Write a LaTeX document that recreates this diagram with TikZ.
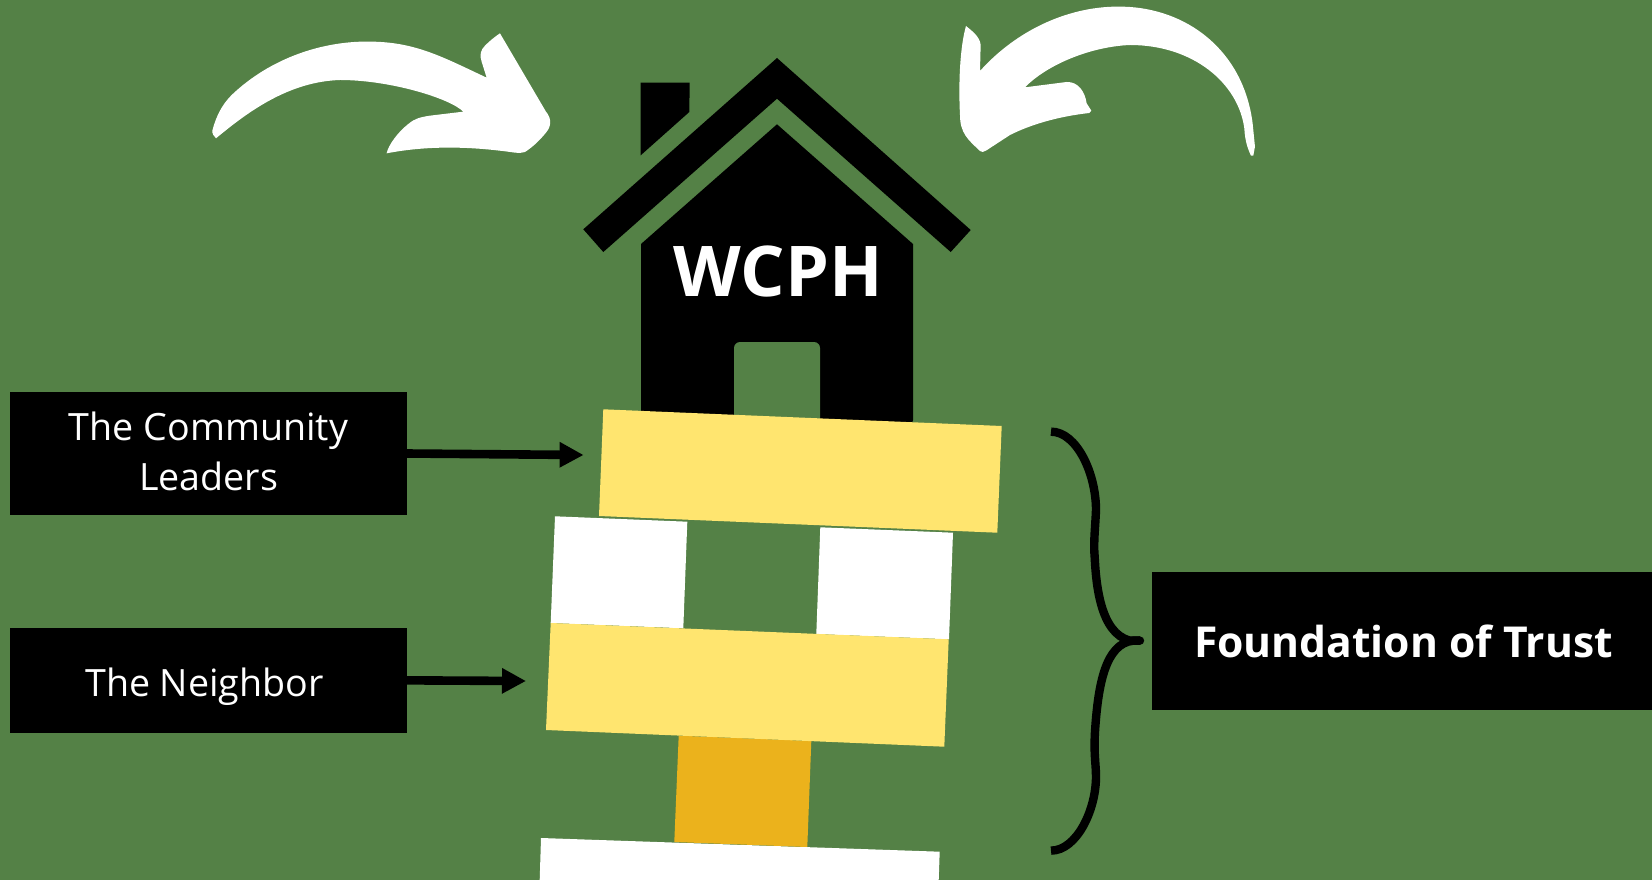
\documentclass[tikz,border=0pt]{standalone}
\usepackage{fontspec}
\setmainfont{Open Sans}
\usetikzlibrary{arrows.meta}
\definecolor{bggreen}{HTML}{548146}
\definecolor{blockyellow}{HTML}{FFE56F}
\definecolor{blockorange}{HTML}{EBB21C}
\tikzset{
  labelbox/.style={fill=black,text=white,inner sep=0pt,minimum width=397pt,align=center},
  pointer/.style={line width=8.6pt,-{Triangle[length=24pt,width=24pt]}},
  yellowblock/.style={fill=blockyellow},
  whiteblock/.style={fill=white},
  orangeblock/.style={fill=blockorange},
  sweep/.style={fill=white},
  bracestroke/.style={draw=black,line width=8.4pt},
}
\begin{document}
\begin{tikzpicture}[x=1pt,y=-1pt]
\useasboundingbox (0,0) rectangle (1652,880);
\fill[bggreen] (0,0) rectangle (1652,880);

% curved arrows
\begin{scope}[shift={(190,0)},x=0.3333pt,y=-0.3333pt]
\fill[sweep] (78,415) .. controls (72,410) and (66,400) .. (67,392)
 .. controls (78,350) and (95,315) .. (125,285)
 .. controls (240,175) and (400,120) .. (550,125)
 .. controls (680,128) and (760,172) .. (890,233)
 -- (875,185) .. controls (868,165) and (872,150) .. (885,137)
 .. controls (900,122) and (915,110) .. (930,100)
 -- (1068,335) .. controls (1085,355) and (1085,378) .. (1068,398)
 .. controls (1050,420) and (1030,440) .. (1005,456)
 .. controls (995,460) and (985,459) .. (975,458)
 .. controls (850,440) and (720,435) .. (590,460)
 .. controls (595,435) and (625,395) .. (655,372)
 .. controls (675,355) and (690,352) .. (720,347) -- (820,335)
 .. controls (780,295) and (600,240) .. (450,240)
 .. controls (300,245) and (180,330) .. (78,415) -- cycle;
\end{scope}
\begin{scope}[shift={(930,0)},x=0.3333pt,y=-0.3333pt]
\fill[sweep] (108,78) .. controls (125,92) and (150,110) .. (152,135) -- (150,213)
 .. controls (260,90) and (420,15) .. (580,20)
 .. controls (770,25) and (940,150) .. (968,370) -- (975,440) -- (970,467) -- (963,467)
 .. controls (955,450) and (945,425) .. (943,385)
 .. controls (925,250) and (790,135) .. (600,135)
 .. controls (480,140) and (350,195) .. (285,262) -- (410,246)
 .. controls (445,245) and (465,275) .. (470,310) -- (484,332) -- (478,339)
 .. controls (380,350) and (300,375) .. (240,405) -- (168,452)
 .. controls (160,457) and (155,457) .. (150,453)
 .. controls (115,420) and (90,400) .. (90,345)
 .. controls (85,250) and (90,140) .. (108,78) -- cycle;
\end{scope}

% house
\fill[black] (777,58) -- (970.7,230) -- (950.7,252) -- (777,98.7) -- (603.3,252) -- (583.3,229.3) -- cycle;
\fill[black] (640.7,82.7) -- (689.7,82.7) -- (689.3,112) -- (640.7,155.3) -- cycle;
\fill[black] (641,423) -- (641,244) -- (777,124.3) -- (913,244) -- (913,420) .. controls (913,422) and (912,423) .. (910,423) -- cycle;
\fill[bggreen,rounded corners=6pt] (734,440) -- (734,342) -- (820,342) -- (820,440) -- cycle;
\node[text=white,inner sep=0pt,anchor=base,font=\fontsize{70}{70}\selectfont\bfseries] (wcph) at (778,296.7) {WCPH};

% blocks
\fill[whiteblock] (541,838) -- (939.7,851.7) -- (938.7,880) -- (539.7,880) -- cycle;
\fill[orangeblock] (678.7,735.7) -- (811.3,741) -- (807.3,847) -- (674.3,842) -- cycle;
\fill[whiteblock] (555,516.3) -- (687.3,521.7) -- (683.3,628.3) -- (550.7,623) -- cycle;
\fill[whiteblock] (820.3,527.3) -- (953,532.7) -- (949,639.3) -- (816.3,634) -- cycle;
\fill[yellowblock] (550.7,623) -- (948.7,639.3) -- (944.3,746.7) -- (546,730) -- cycle;
\fill[yellowblock] (603.3,409.3) -- (1001.7,426) -- (997.3,532.7) -- (599,516) -- cycle;

% label boxes
\node[labelbox,minimum height=123pt,font=\fontsize{37.6}{50}\selectfont,text depth=4pt] (leaders) at (208.5,453.5) {The Community\\Leaders};
\node[labelbox,minimum height=104.7pt,font=\fontsize{37.6}{50}\selectfont,text height=32.7pt,text depth=0pt] (neighbor) at (208.5,680.35) {\hspace*{-8pt}The Neighbor};
\node[labelbox,minimum width=500pt,minimum height=138pt,font=\fontsize{42.6}{50}\selectfont\bfseries,text height=33.4pt,text depth=0pt] (trust) at (1402,641) {\hspace*{3pt}Foundation of Trust};

% pointers
\coordinate (tipA) at (583.6,455);
\coordinate (tipB) at (526,681);
\draw[pointer] (leaders.east) -- (tipA);
\draw[pointer] (neighbor.east) -- (tipB);

% brace
\begin{scope}[shift={(1020,410)},x=0.3333pt,y=-0.3333pt]
\draw[bracestroke] (93,65) .. controls (170,65) and (228,190) .. (228,300)
 .. controls (226,350) and (220,400) .. (224,440)
 .. controls (228,520) and (240,670) .. (330,692) -- (360,692);
\draw[bracestroke] (360,692) -- (340,692) .. controls (255,700) and (235,830) .. (226,950)
 .. controls (220,1030) and (228,1060) .. (228,1100)
 .. controls (228,1200) and (170,1322) .. (93,1322);
\fill[black] (360,692) circle[radius=4.2pt];
\end{scope}
\end{tikzpicture}
\end{document}
